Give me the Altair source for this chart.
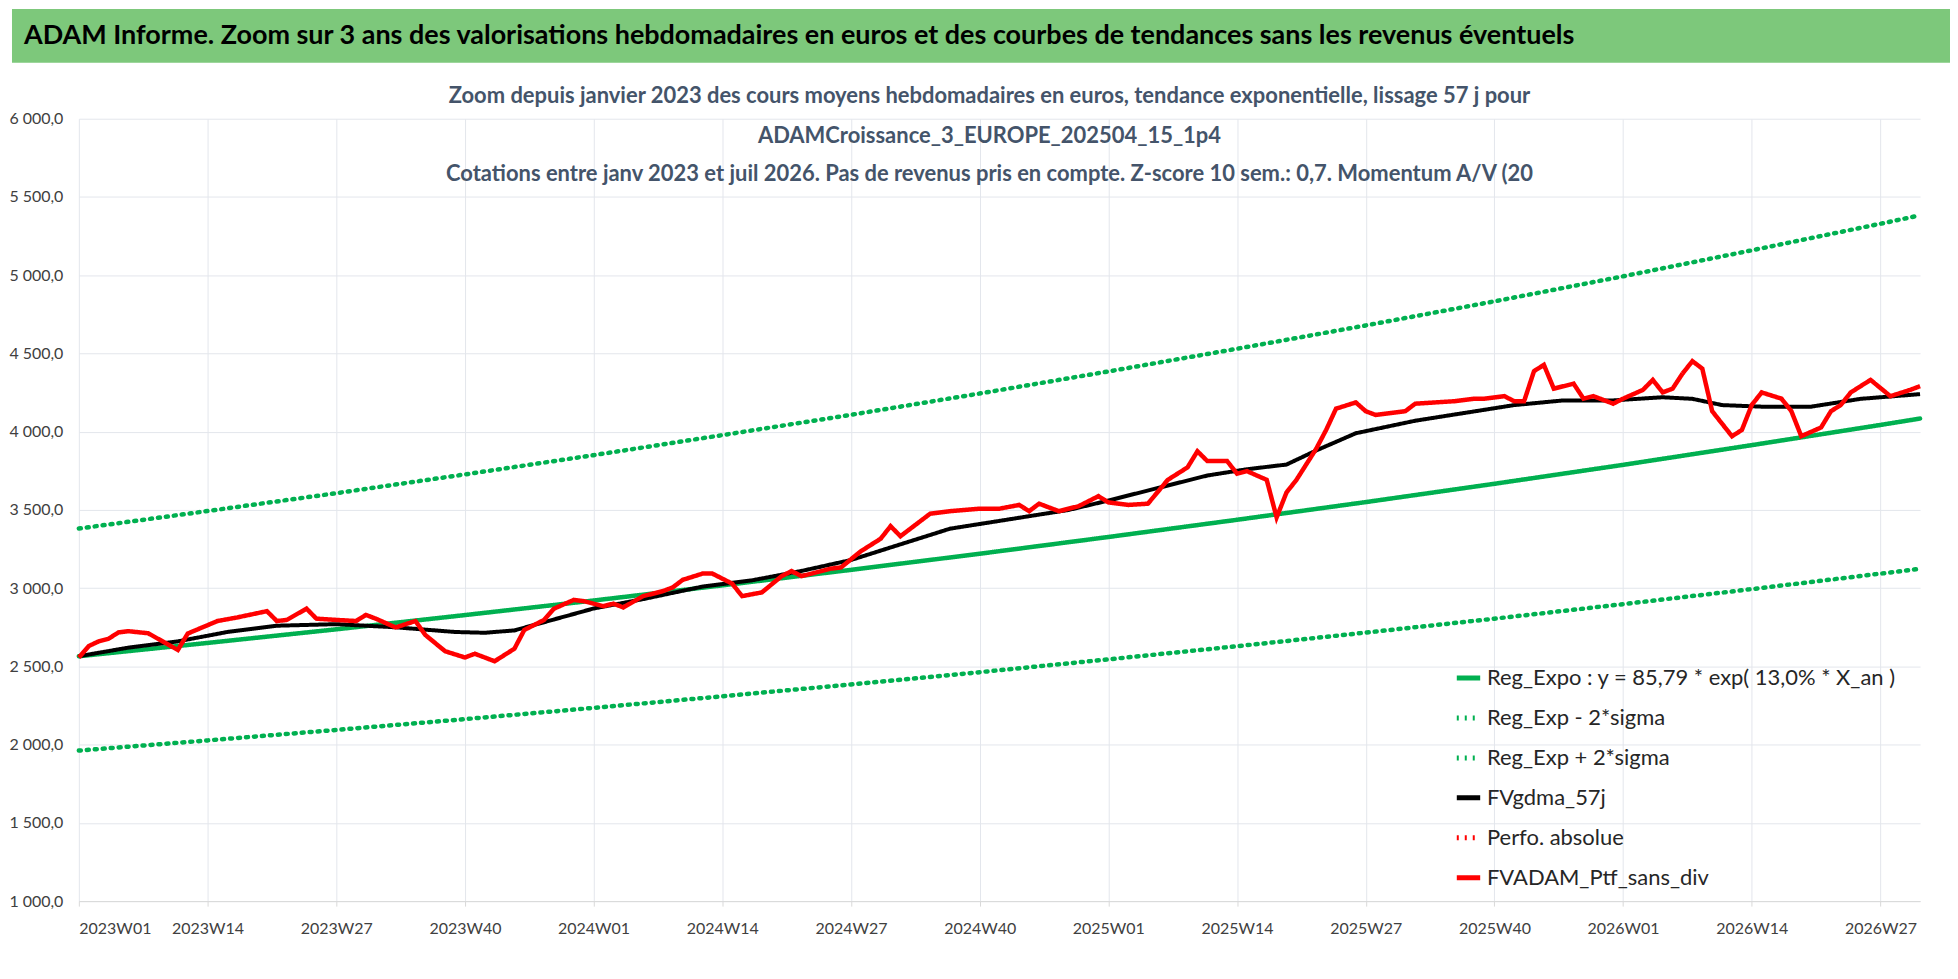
import pandas as pd
import altair as alt

# week index 0 = 2023W01 (52 weeks per year)
knot_w = [0, 13, 26, 39, 52, 65, 78, 91, 104, 117, 130, 143, 156, 169, 182, 186]
reg_mid = [2565, 2650, 2737, 2828, 2921, 3018, 3117, 3220, 3327, 3437, 3550, 3667, 3788, 3914, 4043, 4084]
reg_up = [3381, 3493, 3607, 3727, 3850, 3978, 4108, 4244, 4385, 4530, 4679, 4833, 4993, 5159, 5329, 5383]
reg_lo = [1962, 2027, 2094, 2163, 2235, 2309, 2385, 2463, 2545, 2629, 2716, 2805, 2898, 2994, 3093, 3124]

black_w = [0, 5, 10, 15, 20, 26, 32, 38, 41, 44, 48, 52, 57, 63, 68, 73, 78, 83, 88, 94, 100, 104,
           109, 114, 118, 122, 125, 129, 135, 140, 145, 150, 155, 160, 163, 166, 170, 175, 180, 186]
black_v = [2565, 2620, 2660, 2720, 2760, 2770, 2750, 2720, 2715, 2730, 2800, 2870, 2930, 3010, 3050,
           3110, 3180, 3280, 3380, 3440, 3500, 3560, 3640, 3720, 3760, 3790, 3880, 3990, 4070, 4120,
           4170, 4200, 4200, 4220, 4210, 4170, 4160, 4160, 4210, 4240]

red_w = [0, 1, 2, 3, 4, 5, 7, 10, 11, 14, 16, 19, 20, 21, 23, 24, 26, 28, 29, 30, 32, 34, 35, 37, 39,
         40, 42, 44, 45, 47, 48, 50, 51, 53, 54, 55, 57, 59, 60, 61, 63, 64, 66, 67, 69, 71, 72, 73,
         76, 77, 79, 81, 82, 83, 84, 86, 88, 91, 93, 95, 96, 97, 99, 101, 103, 104, 106, 108, 110,
         112, 113, 114, 116, 117, 118, 120, 121, 122, 123, 125, 126, 127, 129, 130, 131, 132, 134,
         135, 137, 139, 141, 142, 144, 145, 146, 147, 148, 149, 151, 152, 153, 155, 156, 158, 159,
         160, 161, 162, 163, 164, 165, 167, 168, 169, 170, 172, 173, 174, 176, 177, 178, 179, 181,
         183, 185, 186]
red_v = [2557, 2630, 2660, 2677, 2717, 2725, 2712, 2605, 2710, 2790, 2813, 2853, 2790, 2797, 2869,
         2805, 2797, 2790, 2829, 2805, 2749, 2790, 2701, 2597, 2557, 2581, 2533, 2613, 2733, 2797,
         2869, 2925, 2917, 2885, 2901, 2877, 2949, 2981, 3005, 3053, 3093, 3093, 3029, 2949, 2973,
         3077, 3109, 3077, 3125, 3133, 3236, 3316, 3396, 3332, 3380, 3476, 3492, 3508, 3508, 3532,
         3492, 3540, 3492, 3524, 3588, 3548, 3532, 3540, 3692, 3772, 3875, 3812, 3812, 3732, 3748,
         3692, 3452, 3612, 3692, 3891, 4011, 4147, 4187, 4131, 4107, 4115, 4131, 4179, 4187, 4195,
         4211, 4211, 4227, 4195, 4195, 4387, 4427, 4275, 4307, 4211, 4227, 4179, 4211, 4267, 4331,
         4251, 4275, 4371, 4451, 4403, 4131, 3971, 4011, 4171, 4251, 4211, 4131, 3971, 4027, 4131,
         4171, 4251, 4331, 4227, 4267, 4291]

names = ["Reg_Expo : y = 85,79 * exp( 13,0% *  X_an )", "Reg_Exp - 2*sigma", "Reg_Exp + 2*sigma",
         "FVgdma_57j", "Perfo. absolue", "FVADAM_Ptf_sans_div"]
colors = ["#00b050", "#00b050", "#00b050", "#000000", "#ff0000", "#ff0000"]
dashes = [[1, 0], [2, 6], [2, 6], [1, 0], [2, 6], [1, 0]]

green = pd.concat([
    pd.DataFrame({"w": knot_w, "v": reg_mid, "s": names[0]}),
    pd.DataFrame({"w": knot_w, "v": reg_lo, "s": names[1]}),
    pd.DataFrame({"w": knot_w, "v": reg_up, "s": names[2]}),
])
black = pd.DataFrame({"w": black_w, "v": black_v, "s": names[3]})
red = pd.DataFrame({"w": red_w, "v": red_v, "s": names[5]})

W, H = 1845, 784
lbl = ("toString(2023 + floor(datum.value / 52)) + 'W' + "
       "(datum.value % 52 + 1 < 10 ? '0' : '') + toString(datum.value % 52 + 1)")

enc = dict(
    x=alt.X("w:Q", scale=alt.Scale(domain=[0, 186], nice=False),
            axis=alt.Axis(values=list(range(0, 187, 13)), labelExpr=lbl, title=None,
                          grid=True, gridColor="#e3e6ec", domainColor="#d9d9d9", tickColor="#d9d9d9",
                          labelFontSize=16, labelColor="#404040", labelPadding=14, labelFont="Lato")),
    y=alt.Y("v:Q", scale=alt.Scale(domain=[1000, 6000], nice=False),
            axis=alt.Axis(values=list(range(1000, 6001, 500)), title=None, grid=True,
                          gridColor="#e3e6ec", domain=False, ticks=False,
                          labelExpr="replace(replace(format(datum.value, ',.1f'), ',', ' '), '.', ',')",
                          labelFontSize=16, labelColor="#404040", labelPadding=16, labelFont="Lato")),
    color=alt.Color("s:N", scale=alt.Scale(domain=names, range=colors),
                    legend=alt.Legend(title=None, orient="none", legendX=1378, legendY=656,
                                      symbolType="stroke", symbolStrokeWidth=5, symbolSize=550,
                                      labelFontSize=22, labelFont="Lato", labelColor="#262626",
                                      rowPadding=14, labelLimit=600)),
    strokeDash=alt.StrokeDash("s:N", scale=alt.Scale(domain=names, range=dashes), legend=None),
    detail="s:N",
)

g = alt.Chart(green).mark_line(strokeWidth=4.5, strokeCap="round").encode(**enc)
b = alt.Chart(black).mark_line(strokeWidth=4).encode(**enc)
r = alt.Chart(red).mark_line(strokeWidth=4.5).encode(**enc)

sub_lines = ["Zoom depuis janvier 2023 des cours moyens hebdomadaires  en euros, tendance exponentielle, lissage 57 j pour",
             "ADAMCroissance_3_EUROPE_202504_15_1p4",
             "Cotations entre janv 2023 et juil 2026. Pas de revenus pris en compte. Z-score 10 sem.: 0,7. Momentum A/V (20"]
sub_y = [-23, 17, 55]
subs = [
    alt.Chart(pd.DataFrame({"t": [t]})).mark_text(fontSize=22, fontWeight="bold", font="Lato", color="#44546a")
    .encode(text="t:N", x=alt.value(W / 2 - 10), y=alt.value(yy))
    for t, yy in zip(sub_lines, sub_y)
]

main = alt.layer(g, b, r, *subs).properties(width=W, height=H)

head = alt.Chart(pd.DataFrame({"t": ["ADAM Informe. Zoom sur 3 ans des valorisations hebdomadaires en euros et des courbes de tendances sans les revenus éventuels"]}))
hrect = head.mark_rect(color="#7dc87b").encode(x=alt.value(-67), x2=alt.value(W + 30), y=alt.value(0), y2=alt.value(54))
htext = head.mark_text(align="left", fontSize=27, fontWeight="bold", font="Lato", color="#000000").encode(
    text="t:N", x=alt.value(-55), y=alt.value(27))
header = alt.layer(hrect, htext).properties(width=W, height=76)

chart = alt.vconcat(header, main, spacing=0, padding={"top": 0, "left": 0, "right": 0, "bottom": 5}).configure_view(stroke=None)
chart.save("out.html", embed_options={"renderer": "svg", "actions": False})
